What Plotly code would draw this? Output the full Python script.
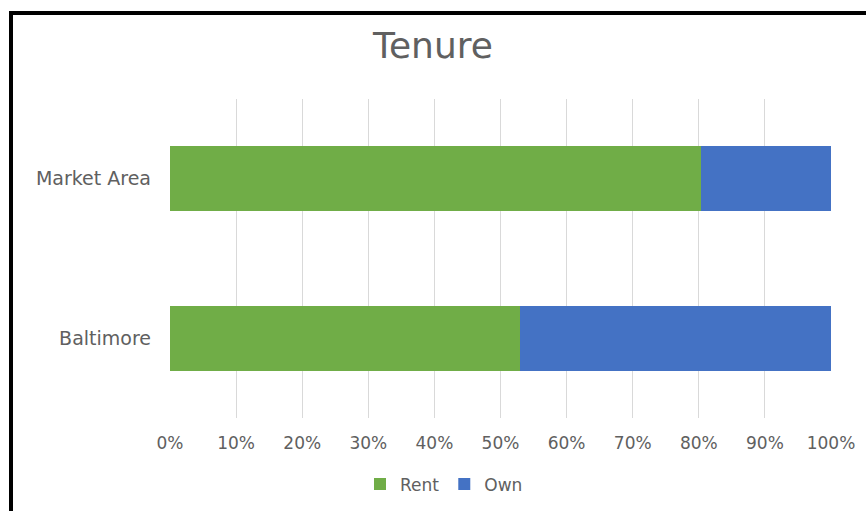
import plotly.graph_objects as go

# Housing tenure split (share of households, %)
categories = ["Baltimore", "Market Area"]
rent = [53.0, 80.3]
own = [47.0, 19.7]
series_names = ["Rent", "Own"]
series_colors = ["#70AD47", "#4472C4"]
tick_vals = [0, 10, 20, 30, 40, 50, 60, 70, 80, 90, 100]
tick_text = ["0%", "10%", "20%", "30%", "40%", "50%", "60%", "70%", "80%", "90%", "100%"]

W, H = 866, 515
M_L, M_R, M_T, M_B = 170, 35, 99, 90
plot_w = W - M_L - M_R
plot_h = H - M_T - M_B


def px_to_paper_x(px):
    return (px - M_L) / plot_w


def px_to_paper_y(py):
    return (H - M_B - py) / plot_h


FONT = "DejaVu Sans"
TEXT_COLOR = "#606060"

fig = go.Figure()
for name, vals, color in zip(series_names, [rent, own], series_colors):
    fig.add_trace(go.Bar(
        y=categories, x=vals, name=name, orientation="h",
        marker=dict(color=color, line=dict(width=0)),
    ))

fig.update_layout(
    width=W, height=H,
    barmode="stack",
    bargap=0.59,
    paper_bgcolor="white",
    plot_bgcolor="white",
    margin=dict(l=M_L, r=M_R, t=M_T, b=M_B),
    font=dict(family=FONT, color=TEXT_COLOR),
    title=dict(
        text="Tenure", x=px_to_paper_x(433), xref="paper", xanchor="center",
        y=1 - 45 / H, yanchor="middle",
        font=dict(size=36, color=TEXT_COLOR, family=FONT),
    ),
    xaxis=dict(
        range=[0, 100], tickvals=tick_vals, ticktext=tick_text,
        showgrid=True, gridcolor="#D9D9D9", gridwidth=1,
        zeroline=False, showline=False,
        ticks="", ticklabelstandoff=13,
        tickfont=dict(size=17, color=TEXT_COLOR),
        fixedrange=True,
    ),
    yaxis=dict(
        range=[-0.5, 1.5], showgrid=False, zeroline=False, showline=False,
        ticks="", ticklabelstandoff=18,
        tickfont=dict(size=19, color=TEXT_COLOR),
        fixedrange=True,
    ),
    legend=dict(
        orientation="h", x=px_to_paper_x(444), xanchor="center",
        y=px_to_paper_y(493), yanchor="middle",
        font=dict(size=17, color=TEXT_COLOR),
        itemwidth=30, traceorder="normal",
        bgcolor="rgba(0,0,0,0)",
    ),
    showlegend=True,
)

# Black frame along the top and left edges of the chart area
lx = px_to_paper_x(11)
ty = px_to_paper_y(11)
fig.add_shape(
    type="path", xref="paper", yref="paper",
    path=f"M {lx},{px_to_paper_y(H + 5)} L {lx},{ty} L {px_to_paper_x(W + 5)},{ty}",
    line=dict(color="black", width=4),
)

fig.write_html("out.html", config={"displayModeBar": False})
